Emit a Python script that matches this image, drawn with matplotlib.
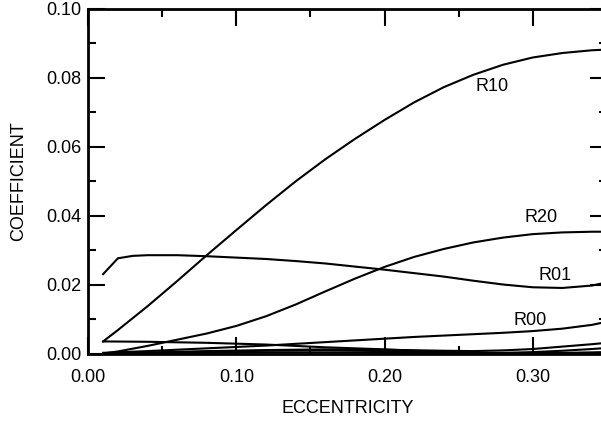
import matplotlib
matplotlib.use("Agg")
from matplotlib import pyplot as plt
from matplotlib.ticker import MultipleLocator

# eccentricity grid for each curve
x_r10 = [0.01, 0.02, 0.04, 0.06, 0.08, 0.10, 0.12, 0.14, 0.16, 0.18, 0.20,
         0.22, 0.24, 0.26, 0.28, 0.30, 0.32, 0.34, 0.35]
r10 = [0.0035, 0.0068, 0.0137, 0.0210, 0.0285, 0.0358, 0.0430, 0.0499, 0.0563,
       0.0622, 0.0677, 0.0728, 0.0772, 0.0808, 0.0837, 0.0858, 0.0871, 0.0879, 0.0881]

x_r01 = [0.01, 0.02, 0.03, 0.04, 0.06, 0.08, 0.10, 0.12, 0.14, 0.16, 0.18, 0.20,
         0.22, 0.24, 0.26, 0.28, 0.30, 0.32, 0.34, 0.35]
r01 = [0.0230, 0.0276, 0.0283, 0.0285, 0.0285, 0.0282, 0.0278, 0.0274, 0.0268,
       0.0261, 0.0252, 0.0243, 0.0233, 0.0223, 0.0211, 0.0200, 0.0192, 0.0190,
       0.0197, 0.0206]

x_r20 = [0.01, 0.02, 0.04, 0.06, 0.08, 0.10, 0.12, 0.14, 0.16, 0.18, 0.20,
         0.22, 0.24, 0.26, 0.28, 0.30, 0.32, 0.34, 0.35]
r20 = [0.0000, 0.0006, 0.0022, 0.0040, 0.0058, 0.0080, 0.0108, 0.0142, 0.0180,
       0.0217, 0.0251, 0.0280, 0.0303, 0.0322, 0.0336, 0.0346, 0.0351, 0.0353, 0.0353]

x_r00 = [0.01, 0.04, 0.06, 0.08, 0.10, 0.12, 0.14, 0.16, 0.18, 0.20, 0.22, 0.24,
         0.26, 0.28, 0.30, 0.32, 0.34, 0.35]
r00 = [0.0002, 0.0007, 0.0011, 0.0015, 0.0019, 0.0023, 0.0028, 0.0033, 0.0038,
       0.0043, 0.0048, 0.0052, 0.0056, 0.0060, 0.0065, 0.0072, 0.0083, 0.0092]

# small unlabeled coefficients near zero
x_small = [0.01, 0.04, 0.08, 0.12, 0.16, 0.20, 0.24, 0.26, 0.28, 0.30, 0.32, 0.34, 0.35]
small_a = [0.0035, 0.0034, 0.0031, 0.0026, 0.0018, 0.0012, 0.0004, 0.0001, 0.0000,
           0.0001, 0.0002, 0.0003, 0.0004]
small_b = [0.0000, 0.0003, 0.0007, 0.0010, 0.0012, 0.0011, 0.0008, 0.0007, 0.0009,
           0.0013, 0.0020, 0.0027, 0.0031]
small_c = [0.0000, 0.0002, 0.0005, 0.0008, 0.0009, 0.0007, 0.0004, 0.0002, 0.0002,
           0.0004, 0.0008, 0.0013, 0.0016]
small_d = [0.0000, 0.0001, 0.0002, 0.0003, 0.0003, 0.0002, 0.0001, 0.0000, 0.0000,
           0.0000, 0.0001, 0.0002, 0.0003]

labels = ["R10", "R20", "R01", "R00"]
label_x = [0.2726, 0.3059, 0.3150, 0.2980]
label_y = [0.0775, 0.0393, 0.0226, 0.0097]

plt.rcParams['font.family'] = ['Liberation Sans', 'DejaVu Sans']

fig = plt.figure(figsize=(6.01, 4.22), dpi=100)
ax = fig.add_axes([0.1469, 0.1623, 0.8626, 0.8175])

lw = 1.5
ax.plot(x_r10, r10, color='black', lw=lw)
ax.plot(x_r01, r01, color='black', lw=lw)
ax.plot(x_r20, r20, color='black', lw=lw)
ax.plot(x_r00, r00, color='black', lw=lw)
for ys in (small_a, small_b, small_c, small_d):
    ax.plot(x_small, ys, color='black', lw=lw)

for txt, tx, ty in zip(labels, label_x, label_y):
    ax.text(tx, ty, txt, fontsize=13, ha='center', va='center')

ax.set_xlim(0, 0.35)
ax.set_ylim(0, 0.10)
ax.xaxis.set_major_locator(MultipleLocator(0.10))
ax.xaxis.set_minor_locator(MultipleLocator(0.05))
ax.yaxis.set_major_locator(MultipleLocator(0.02))
ax.yaxis.set_minor_locator(MultipleLocator(0.01))
ax.xaxis.set_major_formatter(lambda v, p: f"{v:.2f}")
ax.yaxis.set_major_formatter(lambda v, p: f"{v:.2f}")

ax.tick_params(which='both', direction='in', top=True, right=True,
               width=1.5, labelsize=13)
ax.tick_params(which='major', length=12)
ax.tick_params(which='minor', length=6)
ax.tick_params(axis='y', pad=5)
ax.tick_params(axis='x', pad=11)
for s in ax.spines.values():
    s.set_linewidth(2)

ax.set_xlabel('ECCENTRICITY', fontsize=13, va='center')
ax.xaxis.set_label_coords(0.5, -0.158)
ax.set_ylabel('COEFFICIENT', fontsize=13, ha='center', va='center')
ax.yaxis.set_label_coords(-0.135, 0.5)

fig.savefig('out.png', dpi=100)
